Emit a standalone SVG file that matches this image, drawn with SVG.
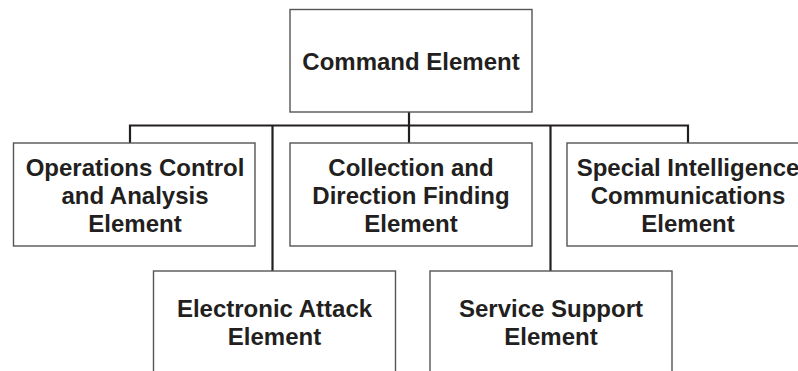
<svg xmlns="http://www.w3.org/2000/svg" width="798" height="371" viewBox="0 0 798 371">
<style>
.box{fill:#fff;stroke:#555;stroke-width:1.4}
.lbl{font-family:"Liberation Sans",Arial,sans-serif;font-weight:bold;font-size:24px;fill:#231f20;text-anchor:middle}
.con{stroke:#231f20;stroke-width:2.2;fill:none}
</style>
<rect width="798" height="371" fill="#fff"/>
<g id="connectors">
<path class="con" d="M130,143 V125.5 H688 V143"/>
<path class="con" d="M409,112 V143"/>
<path class="con" d="M272.5,125.5 V271"/>
<path class="con" d="M550.5,125.5 V271"/>
</g>
<g id="command"><rect class="box" x="290" y="9.5" width="242" height="102.5"/>
<text class="lbl" x="411" y="70">Command Element</text></g>
<g id="ops"><rect class="box" x="13.5" y="143" width="241.5" height="103"/>
<text class="lbl" x="135" y="176">Operations Control</text>
<text class="lbl" x="135" y="204">and Analysis</text>
<text class="lbl" x="135" y="232">Element</text></g>
<g id="collection"><rect class="box" x="290" y="143" width="242" height="103"/>
<text class="lbl" x="411" y="176">Collection and</text>
<text class="lbl" x="411" y="204">Direction Finding</text>
<text class="lbl" x="411" y="232">Element</text></g>
<g id="special"><rect class="box" x="567" y="143" width="242" height="103"/>
<text class="lbl" x="688" y="176">Special Intelligence</text>
<text class="lbl" x="688" y="204">Communications</text>
<text class="lbl" x="688" y="232">Element</text></g>
<g id="attack"><rect class="box" x="153.5" y="271" width="242" height="110"/>
<text class="lbl" x="274.5" y="317">Electronic Attack</text>
<text class="lbl" x="274.5" y="345">Element</text></g>
<g id="service"><rect class="box" x="430" y="271" width="242" height="110"/>
<text class="lbl" x="551" y="317">Service Support</text>
<text class="lbl" x="551" y="345">Element</text></g>
</svg>
